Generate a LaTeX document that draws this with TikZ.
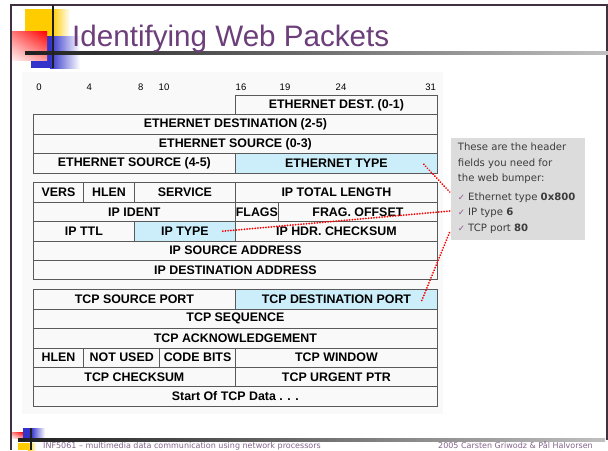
\documentclass[tikz,border=0pt]{standalone}
\usepackage{fontspec}
\setmainfont{Liberation Sans}
\newfontfamily\dejavu{DejaVu Sans}
\usetikzlibrary{calc,shadings}
\definecolor{cellblue}{RGB}{204,238,250}
\definecolor{titlepurple}{RGB}{108,62,122}
\definecolor{frameclr}{RGB}{64,48,64}
\definecolor{footclr}{RGB}{130,100,140}
\definecolor{notegray}{RGB}{220,220,220}
\definecolor{notetext}{RGB}{60,60,60}
\definecolor{tickclr}{RGB}{140,90,150}
\definecolor{sqyellow}{RGB}{255,204,0}
\definecolor{sqblue}{RGB}{51,51,204}
\definecolor{sqred}{RGB}{255,0,0}
\begin{document}
\begin{tikzpicture}[x=1pt,y=-1pt,
  cell/.style={draw=black!65, line width=0.8pt, minimum height=19.4pt, inner sep=0pt,
    anchor=north west, font=\bfseries\fontsize{12.4}{12}\selectfont},
  hl/.style={fill=cellblue},
  bitnum/.style={font=\fontsize{9.5}{9}\selectfont, anchor=base, inner sep=0pt},
  pointer/.style={draw=red, line width=2pt, dash pattern=on 0.01pt off 2.7pt, line cap=round},
  notetxt/.style={anchor=base west, inner sep=0pt, text=notetext, font=\dejavu\fontsize{10.1}{12}\selectfont},
  foot/.style={inner sep=0pt, text=footclr, font=\dejavu\fontsize{8}{8}\selectfont},
]
\useasboundingbox (0,0) rectangle (608,450);
\fill[white] (0,0) rectangle (608,450);

% frame
\draw[frameclr, line width=2pt] (11,450) -- (11,5) -- (607,5) -- (607,440);

% title decoration
\fill[sqyellow] (25,9) rectangle (52,36);
\shade[left color=sqyellow, right color=white] (52,9) rectangle (70,36);
\fill[sqblue] (31,36) rectangle (50,68);
\shade[left color=sqblue, right color=white] (50,36) rectangle (80,68);
\shade[upper right=sqred, upper left=sqred!55, lower right=sqred!40, lower left=sqred!6] (12,31) rectangle (47,60);
\shade[left color=black!88, right color=black!25] (25,51) rectangle (608,54);
\fill[black!88] (51.5,5) rectangle (53.5,68);
\node[anchor=base west, inner sep=0pt, text=titlepurple, font=\fontsize{29.6}{30}\selectfont] (title) at (72,46.7) {Identifying Web Packets};

% table background
\fill[black!2.5] (22,72) rectangle (443,414);

% bit numbers
\node[bitnum] (b0) at (39,90.5) {0};
\node[bitnum] (b4) at (89.3,90.5) {4};
\node[bitnum] (b8) at (140.7,90.5) {8};
\node[bitnum] (b10) at (164,90.5) {10};
\node[bitnum] (b16) at (241,90.5) {16};
\node[bitnum] (b19) at (285,90.5) {19};
\node[bitnum] (b24) at (341,90.5) {24};
\node[bitnum] (b31) at (430.7,90.5) {31};

% Ethernet header
\node[cell, minimum width=202pt] (ethdest01) at (235,95) {ETHERNET DEST. (0-1)};
\node[cell, minimum width=404pt] (ethdest25) at (33,114.4) {ETHERNET DESTINATION (2-5)};
\node[cell, minimum width=404pt] (ethsrc03) at (33,133.8) {ETHERNET SOURCE (0-3)};
\node[cell, minimum width=202pt] (ethsrc45) at (33,153.2) {ETHERNET SOURCE (4-5)};
\node[cell, hl, minimum width=202pt] (ethtype) at (235,153.2) {ETHERNET TYPE};

% IP header
\node[cell, minimum width=50.3pt] (vers) at (33,182.3) {VERS};
\node[cell, minimum width=50.7pt] (iphlen) at (83.3,182.3) {HLEN};
\node[cell, minimum width=101pt] (service) at (134,182.3) {SERVICE};
\node[cell, minimum width=202pt] (totlen) at (235,182.3) {IP TOTAL LENGTH};
\node[cell, minimum width=202pt] (ident) at (33,201.7) {IP IDENT};
\node[cell, minimum width=43pt] (flags) at (235,201.7) {FLAGS};
\node[cell, minimum width=159pt] (fragoff) at (278,201.7) {FRAG. OFFSET};
\node[cell, minimum width=101pt] (ttl) at (33,221.1) {IP TTL};
\node[cell, hl, minimum width=101pt] (iptype) at (134,221.1) {IP TYPE};
\node[cell, minimum width=202pt] (hdrck) at (235,221.1) {IP HDR. CHECKSUM};
\node[cell, minimum width=404pt] (ipsrc) at (33,240.5) {IP SOURCE ADDRESS};
\node[cell, minimum width=404pt] (ipdst) at (33,259.9) {IP DESTINATION ADDRESS};

% TCP header
\node[cell, minimum width=202pt] (srcport) at (33,289.3) {TCP SOURCE PORT};
\node[cell, hl, minimum width=202pt] (dstport) at (235,289.3) {TCP DESTINATION PORT};
\node[cell, minimum width=404pt] (seq) at (33,308.7) {TCP SEQUENCE};
\node[cell, minimum width=404pt] (ack) at (33,328.1) {TCP ACKNOWLEDGEMENT};
\node[cell, minimum width=50.3pt] (tcphlen) at (33,347.5) {HLEN};
\node[cell, minimum width=76pt] (notused) at (83.3,347.5) {NOT USED};
\node[cell, minimum width=75.7pt] (codebits) at (159.3,347.5) {CODE BITS};
\node[cell, minimum width=202pt] (window) at (235,347.5) {TCP WINDOW};
\node[cell, minimum width=202pt] (tcpck) at (33,366.9) {TCP CHECKSUM};
\node[cell, minimum width=202pt] (urgent) at (235,366.9) {TCP URGENT PTR};
\node[cell, minimum width=404pt] (data) at (33,386.3) {Start Of TCP Data . . .};

% callout
\node[fill=notegray, minimum width=134pt, minimum height=102pt, anchor=north west, inner sep=0pt] (note) at (451,137.3) {};
\node[notetxt] (n1) at (457.7,150.7) {These are the header};
\node[notetxt] (n2) at (457.7,166.7) {fields you need for};
\node[notetxt] (n3) at (457.7,181.7) {the web bumper:};
\node[notetxt] (n4) at (457.7,200) {{\color{tickclr}\fontsize{8.5}{8}\selectfont ✓} Ethernet type \textbf{0x800}};
\node[notetxt] (n5) at (457.7,215.7) {{\color{tickclr}\fontsize{8.5}{8}\selectfont ✓} IP type \textbf{6}};
\node[notetxt] (n6) at (457.7,231.7) {{\color{tickclr}\fontsize{8.5}{8}\selectfont ✓} TCP port \textbf{80}};

% pointers
\draw[pointer] ($(ethtype.east)+(-14,1)$) -- ($(note.north west)+(-1,55)$);
\draw[pointer] ($(iptype.east)+(-13,0)$) -- ($(note.north west)+(-1,73.7)$);
\draw[pointer] ($(dstport.east)+(-16,1)$) -- ($(note.north west)+(-1,94)$);

% footer decoration
\shade[upper right=sqred, upper left=sqred!50, lower right=sqred!40, lower left=sqred!6] (12,432) rectangle (23,438);
\fill[sqblue] (23,428) rectangle (31,438);
\shade[left color=sqblue, right color=white] (31,428) rectangle (45,438);
\fill[sqyellow] (18,443) rectangle (28,450);
\shade[left color=sqyellow, right color=white] (28,443) rectangle (36,450);
\shade[left color=black!88, right color=black!25] (18,438.5) rectangle (605,441.5);
\fill[black!88] (30,428) rectangle (32,450);
\node[foot, anchor=base west] (footl) at (43,448) {INF5061 – multimedia data communication using network processors};
\node[foot, anchor=base east] (footr) at (593,448) {2005 Carsten Griwodz \& Pål Halvorsen};
\end{tikzpicture}
\end{document}
